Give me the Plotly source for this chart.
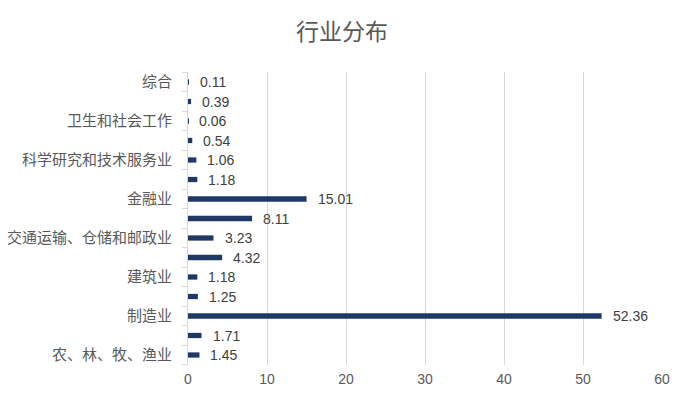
import plotly.graph_objects as go

categories = [
    "农、林、牧、渔业",
    "采矿业",
    "制造业",
    "电力、热力、燃气及水生产和供应业",
    "建筑业",
    "批发和零售业",
    "交通运输、仓储和邮政业",
    "信息传输、软件和信息技术服务业",
    "金融业",
    "房地产业",
    "科学研究和技术服务业",
    "水利、环境和公共设施管理业",
    "卫生和社会工作",
    "文化、体育和娱乐业",
    "综合",
]
values = [1.45, 1.71, 52.36, 1.25, 1.18, 4.32, 3.23, 8.11, 15.01, 1.18, 1.06, 0.54, 0.06, 0.39, 0.11]
value_labels = ["%.2f" % v for v in values]
tick_labels = [c if i % 2 == 0 else "" for i, c in enumerate(categories)]
x_ticks = [0, 10, 20, 30, 40, 50, 60]

FONT = "Liberation Sans, Arial, Noto Sans CJK SC, sans-serif"

fig = go.Figure()
fig.add_trace(go.Bar(
    x=values, y=categories, orientation="h",
    marker=dict(color="#203864", line=dict(width=0)),
    width=0.27, hoverinfo="skip",
))

for v, c, t in zip(values, categories, value_labels):
    fig.add_annotation(x=v, y=c, text=t, showarrow=False, xanchor="left",
                       xshift=9, font=dict(size=14, color="#404040", family=FONT))

# page body has an 8px default margin; size the figure to fit the 688x397 window
fig.update_layout(
    width=680, height=389,
    paper_bgcolor="white", plot_bgcolor="white",
    margin=dict(l=180, r=26, t=64, b=32, autoexpand=False),
    title=dict(text="行业分布", x=0.491, xanchor="center", y=0.938, yanchor="middle",
               font=dict(size=23, color="#595959", family="Noto Sans CJK SC, sans-serif")),
    showlegend=False,
    xaxis=dict(range=[0, 60], tickvals=x_ticks, showgrid=True, gridcolor="#d9d9d9",
               gridwidth=1, zeroline=False, showline=False, ticks="", automargin=False,
               ticklabelstandoff=4,
               tickfont=dict(size=14, color="#595959", family=FONT)),
    yaxis=dict(type="category", categoryorder="array", categoryarray=categories,
               tickmode="array", tickvals=categories, ticktext=tick_labels,
               tickson="boundaries", ticks="outside", ticklen=5, tickcolor="#d9d9d9",
               showline=True, linecolor="#d9d9d9", linewidth=1, showgrid=False,
               ticklabelstandoff=12, automargin=False,
               tickfont=dict(size=15, color="#595959", family="Noto Sans CJK SC, sans-serif")),
)

fig.write_html("out.html")
